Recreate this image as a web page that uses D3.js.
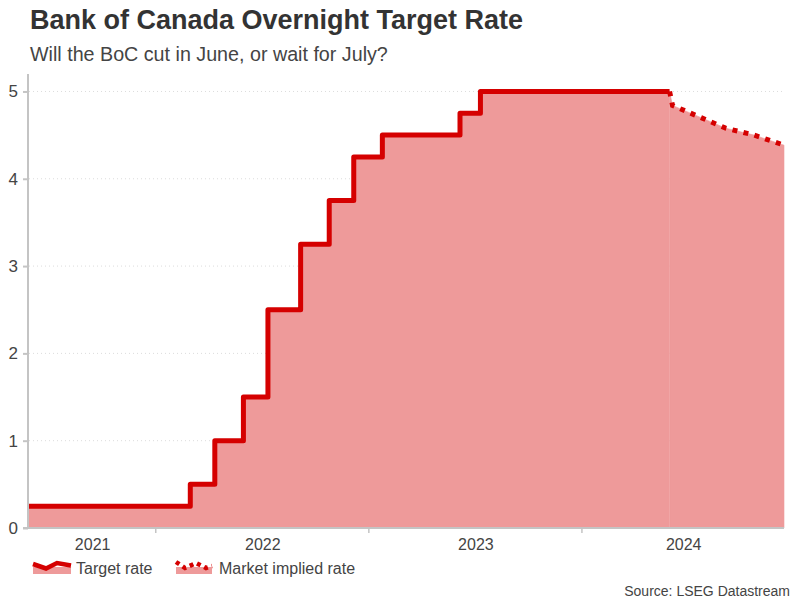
<!DOCTYPE html>
<html>
<head>
<meta charset="utf-8">
<script src="https://cdn.jsdelivr.net/npm/d3@7"></script>
<style>
  html, body { margin: 0; padding: 0; background: #fff; }
  svg { display: block; font-family: "Liberation Sans", Arial, sans-serif; }
</style>
</head>
<body>
<svg id="chart" width="801" height="601"></svg>
<script>
// ---- data ----
const targetDates = ["2021-05-28","2022-03-02","2022-04-13","2022-06-01","2022-07-13","2022-09-07","2022-10-26","2022-12-07","2023-01-25","2023-06-07","2023-07-12","2024-05-31"];
const targetValues = [0.25, 0.50, 1.00, 1.50, 2.50, 3.25, 3.75, 4.25, 4.50, 4.75, 5.00, 5.00];
const marketDates = ["2024-05-31","2024-06-05","2024-07-24","2024-09-04","2024-10-23","2024-12-13"];
const marketValues = [5.00, 4.84, 4.70, 4.58, 4.50, 4.385];
const yTicks = [0, 1, 2, 3, 4, 5];
const yearLabels = ["2021", "2022", "2023", "2024"];
const seriesNames = ["Target rate", "Market implied rate"];
const titleText = "Bank of Canada Overnight Target Rate";
const subtitleText = "Will the BoC cut in June, or wait for July?";
const sourceText = "Source: LSEG Datastream";

(function () {
const parse = d3.timeParse("%Y-%m-%d");
const target = targetDates.map((d, i) => ({ date: parse(d), value: targetValues[i] }));
const market = marketDates.map((d, i) => ({ date: parse(d), value: marketValues[i] }));

const svg = d3.select("#chart");
const pLeft = 28, pRight = 784, pTop = 74, pBottom = 528;
const red = "#d50000", pink = "#ee9a9a", axisGrey = "#c4c4c4", textGrey = "#444";

const x = d3.scaleTime()
  .domain([target[0].date, market[market.length - 1].date])
  .range([pLeft, pRight]);
const y = d3.scaleLinear().domain([0, 5.2]).range([pBottom, pTop]);

// title
svg.append("text").attr("x", 30).attr("y", 29)
  .attr("font-size", 27).attr("font-weight", "bold").attr("fill", "#333")
  .text(titleText);
svg.append("text").attr("x", 30).attr("y", 61)
  .attr("font-size", 19.7).attr("fill", textGrey)
  .text(subtitleText);

// gridlines
svg.append("g").selectAll("line").data(yTicks.filter(t => t > 0)).join("line")
  .attr("x1", pLeft + 1).attr("x2", pRight)
  .attr("y1", d => y(d)).attr("y2", d => y(d))
  .attr("stroke", "#dcdcdc").attr("stroke-width", 1)
  .attr("stroke-dasharray", "1,3");

// areas
svg.append("path").datum(target)
  .attr("d", d3.area().x(d => x(d.date)).y0(y(0)).y1(d => y(d.value)).curve(d3.curveStepAfter))
  .attr("fill", pink);
svg.append("path").datum(market)
  .attr("d", d3.area().x(d => x(d.date)).y0(y(0)).y1(d => y(d.value)))
  .attr("fill", pink).attr("stroke", pink).attr("stroke-width", 0.6);

// lines
svg.append("path").datum(target)
  .attr("d", d3.line().x(d => x(d.date)).y(d => y(d.value)).curve(d3.curveStepAfter))
  .attr("fill", "none").attr("stroke", red).attr("stroke-width", 5)
  .attr("stroke-linejoin", "round");
svg.append("path").datum(market)
  .attr("d", d3.line().x(d => x(d.date)).y(d => y(d.value)))
  .attr("fill", "none").attr("stroke", red).attr("stroke-width", 5)
  .attr("stroke-dasharray", "5,6.3");

// y axis
const yAxis = svg.append("g").attr("transform", `translate(${pLeft},0)`)
  .call(d3.axisLeft(y).tickValues(yTicks).tickSize(5).tickPadding(5).tickFormat(d3.format("d")));
yAxis.select(".domain").attr("stroke", axisGrey).attr("stroke-width", 2)
  .attr("d", `M0,${pTop}V${pBottom}`);
yAxis.selectAll(".tick line").attr("stroke", axisGrey).attr("stroke-width", 2);
yAxis.selectAll(".tick text").attr("font-size", 17).attr("fill", textGrey)
  .attr("font-family", "Liberation Sans, Arial, sans-serif");

// x axis
const yearStarts = [2022, 2023, 2024].map(yr => new Date(yr, 0, 1));
const xAxis = svg.append("g").attr("transform", `translate(0,${pBottom})`)
  .call(d3.axisBottom(x).tickValues(yearStarts).tickSize(5).tickFormat(""));
xAxis.select(".domain").attr("stroke", axisGrey).attr("stroke-width", 2)
  .attr("d", `M${pLeft - 5},0H${pRight}`);
xAxis.selectAll(".tick line").attr("stroke", axisGrey).attr("stroke-width", 1.5);

const [d0, d1] = x.domain();
svg.append("g").selectAll("text").data(yearLabels).join("text")
  .attr("x", d => {
    const yr = +d;
    const a = new Date(Math.max(+new Date(yr, 0, 1), +d0));
    const b = new Date(Math.min(+new Date(yr + 1, 0, 1), +d1));
    return (x(a) + x(b)) / 2 + 1;
  })
  .attr("y", 550).attr("text-anchor", "middle")
  .attr("font-size", 16).attr("fill", textGrey)
  .text(d => d);

// legend
const lg = svg.append("g");
lg.append("rect").attr("x", 33).attr("y", 567).attr("width", 38).attr("height", 7).attr("fill", pink);
lg.append("path").attr("d", "M33,564 L46,568.5 L57,563 L71,565.5")
  .attr("fill", "none").attr("stroke", red).attr("stroke-width", 4.5);
lg.append("text").attr("x", 76).attr("y", 574).attr("font-size", 16).attr("fill", textGrey).text(seriesNames[0]);
lg.append("rect").attr("x", 176).attr("y", 567).attr("width", 36).attr("height", 7).attr("fill", pink);
lg.append("path").attr("d", "M176,562 L185,568 L196,563 L206,568 L212,566")
  .attr("fill", "none").attr("stroke", red).attr("stroke-width", 4.5)
  .attr("stroke-dasharray", "4,4");
lg.append("text").attr("x", 219).attr("y", 574).attr("font-size", 16).attr("fill", textGrey).text(seriesNames[1]);

// source
svg.append("text").attr("x", 790).attr("y", 596).attr("text-anchor", "end")
  .attr("font-size", 14).attr("fill", textGrey).text(sourceText);
})();
</script>
</body>
</html>
